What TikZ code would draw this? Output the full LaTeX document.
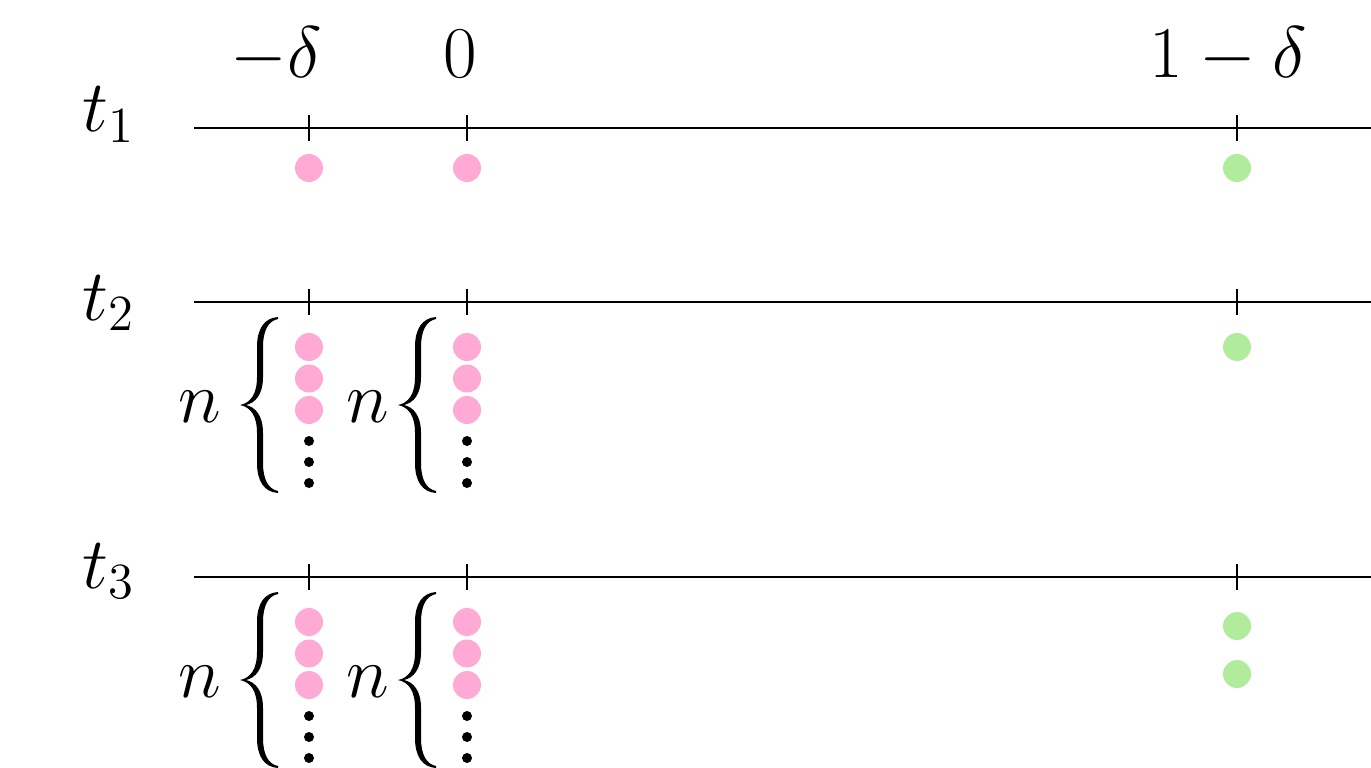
\documentclass[tikz,border=0pt]{standalone}
\definecolor{dotpink}{RGB}{255,170,212}
\definecolor{dotgreen}{RGB}{176,236,156}
\tikzset{
  ball/.style={circle,inner sep=0pt,minimum size=0.28cm},
  tinydot/.style={circle,fill=black,inner sep=0pt,minimum size=0.1cm},
  axislabel/.style={inner sep=0pt,font=\fontsize{21}{25}\selectfont},
  % a left curly brace, tip at (0,0), 38 wide and 176 high
  lbrace/.pic={
    \fill (38,-88) .. controls (24,-87) and (17,-76) .. (17,-58) -- (17,-28)
      .. controls (17,-10) and (10,-2) .. (0,0)
      .. controls (10,2) and (17,10) .. (17,28) -- (17,58)
      .. controls (17,76) and (24,87) .. (38,88) -- (38,86)
      .. controls (28,84) and (23,74) .. (23,58) -- (23,28)
      .. controls (23,10) and (15,2) .. (6,0)
      .. controls (15,-2) and (23,-10) .. (23,-28) -- (23,-58)
      .. controls (23,-74) and (28,-84) .. (38,-86) -- cycle;
  },
}
\begin{document}
\begin{tikzpicture}[x=0.01cm,y=-0.01cm]
  \useasboundingbox (0,0) rectangle (1371,767);
  % the three time lines
  \foreach \row/\y/\b in {1/128/132,2/302/320,3/577/588}{
    \node[axislabel,anchor=base west] (t\row) at (82,\b) {$t_{\row}$};
    \coordinate (l\row) at (194,\y);
    \coordinate (r\row) at (1371,\y);
    \draw[line width=0.6pt] (l\row) -- (r\row);
    \foreach \x in {309,467,1237}
      \draw[line width=0.6pt] (\x,\y-13) -- (\x,\y+13);
  }
  % tick labels
  \node[axislabel,anchor=base] (lmd) at (276,78) {$-\delta$};
  \node[axislabel,anchor=base] (lzero) at (460,78) {$0$};
  \node[axislabel,anchor=base] (lone) at (1228,78) {$1-\delta$};
  % row 1
  \node[ball,fill=dotpink] (a1) at (309,168) {};
  \node[ball,fill=dotpink] (b1) at (467,168) {};
  \node[ball,fill=dotgreen] (c1) at (1237,168) {};
  % rows 2 and 3
  \foreach \row/\y in {2/347,3/622}{
    \foreach \x/\s in {309/a,467/b}{
      \foreach \k in {0,1,2}
        \node[ball,fill=dotpink] (\s\row\k) at (\x,\y+31.5*\k) {};
      \foreach \k in {0,1,2}
        \node[tinydot] at (\x,\y+94+21*\k) {};
    }
    \node[axislabel] (na\row) at (200,\y+60) {$n$};
    \pic at (240,\y+58) {lbrace};
    \node[axislabel] (nb\row) at (368,\y+60) {$n$};
    \pic at (398,\y+58) {lbrace};
  }
  \node[ball,fill=dotgreen] (c2) at (1237,347) {};
  \node[ball,fill=dotgreen] (c3) at (1237,626) {};
  \node[ball,fill=dotgreen] (c4) at (1237,674) {};
\end{tikzpicture}
\end{document}
